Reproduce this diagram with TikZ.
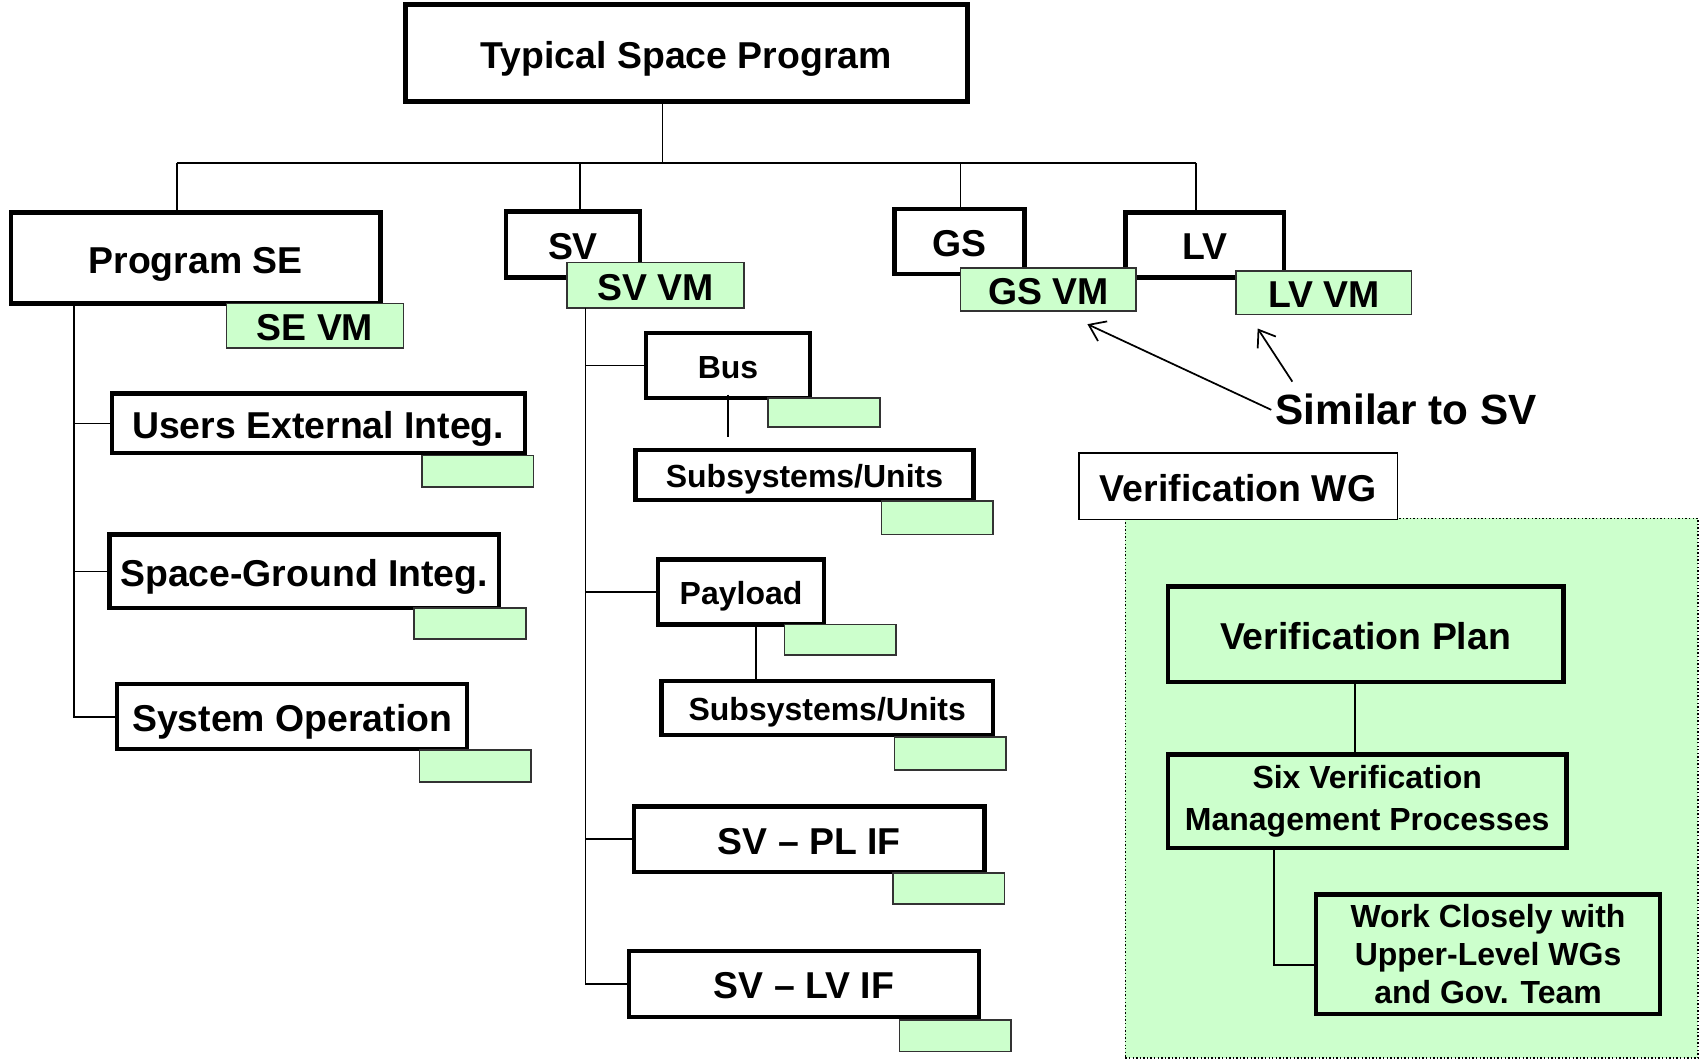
\documentclass[tikz,border=0pt]{standalone}
\usepackage{fontspec}
\setmainfont{Liberation Sans}
\usetikzlibrary{arrows.meta}
\definecolor{vmgreen}{HTML}{CCFFCC}
\tikzset{
  sz/.style 2 args={minimum width=#1pt, minimum height=#2pt},
  big/.style={font=\fontsize{34.5}{40}\selectfont\bfseries},
  small/.style={font=\fontsize{29.5}{39}\selectfont\bfseries},
  bigcap/.style={text height=27.6pt, text depth=0pt},
  smallcap/.style={text height=23.6pt, text depth=0pt},
  box/.style={draw, line width=4pt, fill=white, inner sep=0pt, align=center},
  tag/.style={draw=black!80, line width=1.5pt, fill=vmgreen, inner sep=0pt, align=center},
  link/.style={line width=1.6pt},
}
\begin{document}
\begin{tikzpicture}[x=1pt, y=-1pt]
  \useasboundingbox (0,0) rectangle (1568,978);

  % WG area
  \node[draw, dotted, line width=1.3pt, fill=vmgreen, sz={528}{498}] (wgarea) at (1302,727) {};
  \node[draw, line width=1.5pt, fill=white, big, bigcap, sz={294}{61}] (wg) at (1142,448.5) {Verification WG};

  % Program
  \begin{scope}[every node/.style={box, big, bigcap}]
    \node[line width=4.5pt, sz={518}{90}] (top) at (633,49) {Typical Space Program};
    \node[sz={341}{84}] (pse) at (180.5,238) {Program SE};
    \node[sz={123}{61}] (sv) at (528.5,225.5) {SV};
    \node[sz={120}{60}] (gs) at (885,223) {GS};
    \node[sz={146}{60}] (lv) at (1111,226) {LV};

    \node[sz={381}{55}] (uei) at (293.5,390.5) {Users External Integ.};
    \node[sz={359}{68}] (sgi) at (280.5,527) {Space-Ground Integ.};
    \node[sz={323}{60}] (sop) at (269.5,661) {System Operation};

    \node[sz={323}{60}] (svpl) at (746.5,774) {SV -- PL IF};
    \node[sz={323}{61}] (svlv) at (741.5,907.5) {SV -- LV IF};
  \end{scope}

  \begin{scope}[every node/.style={box, small, smallcap}]
    \node[sz={151}{60}] (bus) at (671.5,337) {Bus};
    \node[sz={312}{46}] (bsub) at (742,438) {Subsystems/Units};
    \node[sz={153}{60}] (pay) at (683.5,546) {Payload};
    \node[sz={306}{50}] (psub) at (763,653) {Subsystems/Units};
  \end{scope}

  % VM tags
  \begin{scope}[every node/.style={tag, big, bigcap}]
    \node[sz={163}{41}] (sevm) at (290.5,300.5) {SE VM};
    \node[sz={163}{42}] (svvm) at (604.5,263) {SV VM};
    \node[sz={162}{40}] (gsvm) at (967,267) {GS VM};
    \node[sz={162}{40}] (lvvm) at (1221,270) {LV VM};
  \end{scope}

  \begin{scope}[every node/.style={tag, sz={103}{29}}]
    \node (ueitag) at (440.5,434.5) {};
    \node (sgitag) at (433.5,575) {};
    \node (soptag) at (438.5,706.5) {};
    \node[minimum height=27pt] (bustag) at (760,380.5) {};
    \node[minimum height=31pt] (bsubtag) at (864.5,477.5) {};
    \node[minimum height=28pt] (paytag) at (775,590) {};
    \node[minimum height=30pt] (psubtag) at (876.5,695) {};
    \node (svpltag) at (875,819.5) {};
    \node (svlvtag) at (881,955.5) {};
  \end{scope}

  % Verification
  \begin{scope}[every node/.style={box, fill=vmgreen}]
    \node[big, bigcap, sz={365}{88}] (vplan) at (1259.5,585) {Verification Plan};
    \node[small, sz={368}{86}] (sixvm) at (1261,739) {Six Verification\\Management Processes};
    \node[small, font=\fontsize{29.5}{35}\selectfont\bfseries, sz={317}{110}] (work) at (1372.5,880) {Work Closely with\\Upper-Level WGs\\and Gov. Team};
  \end{scope}

  \node[font=\fontsize{39}{46}\selectfont\bfseries, inner sep=0pt] (similar) at (1297,378) {Similar to SV};

  % Tree lines
  \coordinate (busl) at (163,150);
  \coordinate (busm) at (611,150);
  \coordinate (busr) at (1103,150);
  \coordinate (dsv) at (535,150);
  \coordinate (dgs) at (886,150);
  \coordinate (setr) at (68,280);
  \coordinate (svtr) at (540,284);

  \draw[link] (busl) -- (busr);
  \draw[link] (busm) -- (busm |- top.south);
  \draw[link] (busl) -- (busl |- pse.north);
  \draw[link] (dsv) -- (dsv |- sv.north);
  \draw[link] (dgs) -- (dgs |- gs.north);
  \draw[link] (busr) -- (busr |- lv.north);

  \draw[link] (setr) |- (sop.west);
  \draw[link] (setr |- uei.west) -- (uei.west);
  \draw[link] (setr |- sgi.west) -- (sgi.west);

  \draw[link] (svtr) |- (svlv.west);
  \draw[link] (svtr |- bus.west) -- (bus.west);
  \draw[link] (svtr |- pay.west) -- (pay.west);
  \draw[link] (svtr |- svpl.west) -- (svpl.west);

  \draw[link] ([yshift=5pt]bus.south) -- ([yshift=10pt]bus.south |- bsub.north);
  \draw[link] ([xshift=13.5pt]pay.south) -- ([xshift=13.5pt]pay.south |- psub.north);

  \draw[link] ([xshift=-9.5pt]vplan.south) -- ([xshift=-9.5pt]vplan.south |- sixvm.north);
  \draw[link] ([xshift=-86pt]sixvm.south) |- ([yshift=-10pt]work.west);

  % Pointers
  \coordinate (gsptr) at (1003,299);
  \coordinate (lvptr) at (1160,303);
  \coordinate (simtop) at (1192,352);
  \draw[link, -{Straight Barb[length=14pt, width=20pt]}] ([xshift=-4pt]similar.west) -- (gsptr);
  \draw[link, -{Straight Barb[length=14pt, width=20pt]}] (simtop) -- (lvptr);
\end{tikzpicture}
\end{document}
